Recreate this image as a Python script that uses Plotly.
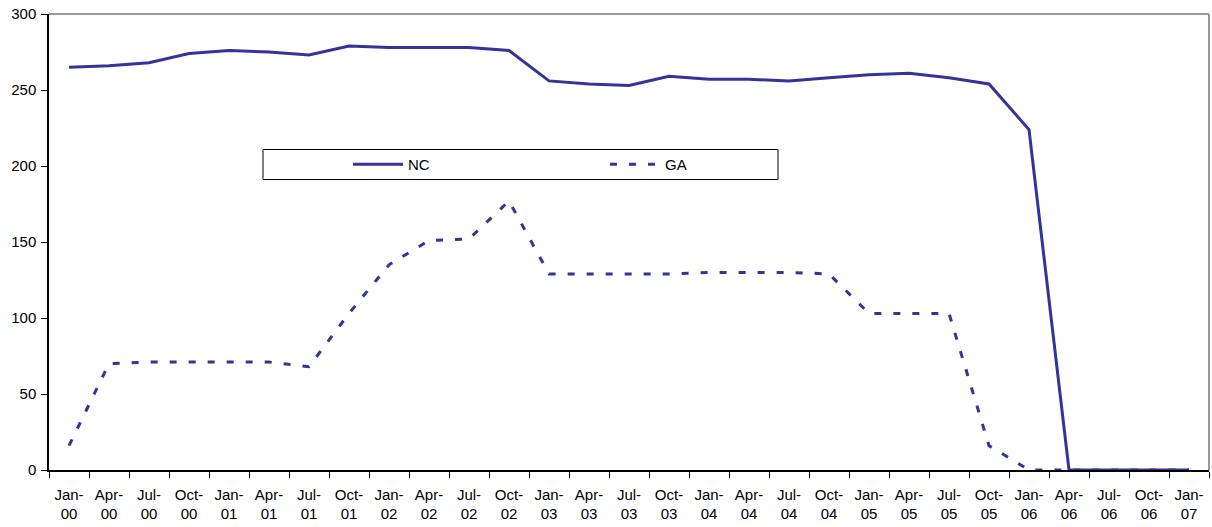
import plotly.graph_objects as go

months = ["Jan", "Apr", "Jul", "Oct"]
years = ["00", "01", "02", "03", "04", "05", "06"]
categories = [f"{m}-<br>{y}" for y in years for m in months] + ["Jan-<br>07"]

nc_values = [265, 266, 268, 274, 276, 275, 273, 279, 278, 278, 278, 276,
             256, 254, 253, 259, 257, 257, 256, 258, 260, 261, 258, 254,
             224, 0, 0, 0, 0]
ga_values = [16, 70, 71, 71, 71, 71, 68, 103, 135, 151, 152, 177,
             129, 129, 129, 129, 130, 130, 130, 129, 103, 103, 103, 16,
             0, 0, 0, 0, 0]

LINE_COLOR = "#333399"
FONT = "Liberation Sans, Arial, sans-serif"

W, H = 1212, 527
L, R, T, B = 49, 3, 14, 57
pw, ph = W - L - R, H - T - B


def px_x(px):
    return (px - L) / pw


def px_y(py):
    return (H - B - py) / ph


fig = go.Figure()
fig.add_trace(go.Scatter(x=categories, y=nc_values, name="NC", mode="lines",
                         line=dict(color=LINE_COLOR, width=3)))
fig.add_trace(go.Scatter(x=categories, y=ga_values, name="GA", mode="lines",
                         line=dict(color=LINE_COLOR, width=3, dash="7px,12px")))

fig.update_layout(
    width=W, height=H,
    margin=dict(l=L, r=R, t=T, b=B, pad=0, autoexpand=False),
    paper_bgcolor="white", plot_bgcolor="white",
    font=dict(family=FONT, size=15, color="black"),
    showlegend=True,
    legend=dict(orientation="h", x=px_x(348), y=px_y(164.5), xanchor="left", yanchor="middle",
                bgcolor="rgba(0,0,0,0)", borderwidth=0, font=dict(size=15),
                itemwidth=50, entrywidth=192, entrywidthmode="pixels"),
    shapes=[
        dict(type="rect", xref="paper", yref="paper",
             x0=px_x(263), x1=px_x(778), y0=px_y(179.5), y1=px_y(149.5),
             line=dict(color="black", width=1), fillcolor="white", layer="below"),
        dict(type="line", xref="paper", yref="paper", x0=0, x1=1, y0=1, y1=1,
             line=dict(color="#999999", width=2)),
        dict(type="line", xref="paper", yref="paper", x0=1, x1=1, y0=0, y1=1,
             line=dict(color="#999999", width=2)),
    ],
)

fig.update_xaxes(type="category", tickson="boundaries", ticks="outside", ticklen=6,
                 tickcolor="black", tickwidth=1, showline=True, linecolor="black",
                 linewidth=1.5, showgrid=False, tickangle=0, zeroline=False,
                 tickfont=dict(size=15), range=[-0.5, 28.5], automargin=False,
                 ticklabelstandoff=10)
fig.update_yaxes(range=[0, 300], dtick=50, ticks="outside", ticklen=6, tickcolor="black",
                 showline=True, linecolor="black", linewidth=1.5, showgrid=False,
                 zeroline=False, tickfont=dict(size=15), automargin=False,
                 ticklabelstandoff=2)

fig.write_html("out.html",
               config={"responsive": False, "displayModeBar": False},
               post_script="document.body.style.margin='0';document.body.style.overflow='hidden';")
